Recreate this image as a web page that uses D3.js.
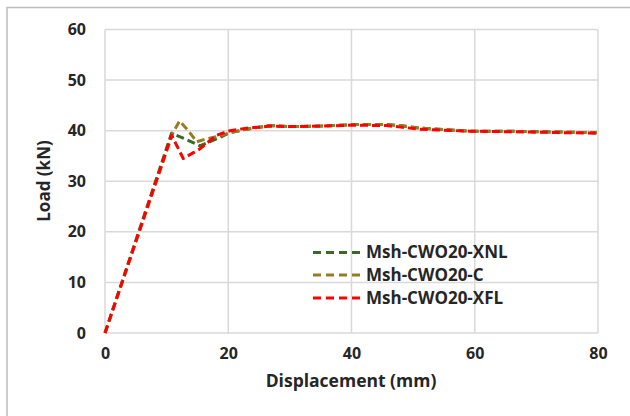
<!DOCTYPE html>
<html><head><meta charset="utf-8">
<script src="https://cdn.jsdelivr.net/npm/d3@7"></script>
<style>body{margin:0;background:#fff}svg{display:block}</style>
</head><body>
<svg id="c" width="630" height="416"></svg>
<script>
const xTicks = [0, 20, 40, 60, 80];
const yTicks = [0, 10, 20, 30, 40, 50, 60];
const seriesNames = ["Msh-CWO20-XNL", "Msh-CWO20-C", "Msh-CWO20-XFL"];
const seriesColors = ["#3b6a27", "#9a7b22", "#ff0000"];
const dispXNL = [0, 10.8, 13.3, 15.4, 18.1, 20.3, 23, 26.8, 30, 35, 40.3, 45.7, 48, 51.1, 55, 59.2, 65, 70, 75, 79.8];
const loadXNL = [0, 39.5, 38.2, 37.0, 38.4, 39.6, 40.3, 41.0, 40.8, 40.9, 41.2, 41.2, 41.0, 40.5, 40.2, 39.9, 39.9, 39.8, 39.7, 39.6];
const dispC = [0, 11, 12.1, 13.5, 14.9, 16.5, 18.1, 20.3, 23, 26.8, 30, 35, 40.3, 45.7, 48, 51.1, 55, 59.2, 65, 70, 75, 79.8];
const loadC = [0, 39.5, 41.9, 40.0, 37.8, 38.4, 38.8, 39.6, 40.3, 41.0, 40.8, 40.9, 41.2, 41.2, 41.0, 40.5, 40.2, 39.9, 39.9, 39.8, 39.7, 39.6];
const dispXFL = [0, 10.8, 12.7, 15.4, 18.1, 20.3, 23, 26.8, 30, 35, 40.3, 45.7, 48, 51.1, 55, 59.2, 65, 70, 75, 79.8];
const loadXFL = [0, 39.1, 34.5, 36.4, 39.1, 40.0, 40.5, 40.9, 40.8, 40.9, 41.1, 41.0, 40.7, 40.3, 40.1, 39.9, 39.8, 39.7, 39.6, 39.5];

const series = [
  {name: seriesNames[0], color: seriesColors[0], d: dispXNL, l: loadXNL},
  {name: seriesNames[1], color: seriesColors[1], d: dispC, l: loadC},
  {name: seriesNames[2], color: seriesColors[2], d: dispXFL, l: loadXFL}
];

const svg = d3.select("#c");
const L = 105, R = 598, T = 29.5, B = 333;
const x = d3.scaleLinear().domain([0, 80]).range([L, R]);
const y = d3.scaleLinear().domain([0, 60]).range([B, T]);
const font = "'Open Sans', sans-serif";
const txt = "#262626";

// outer frame
svg.append("path").attr("d", "M7,416 V7.5 H630").attr("fill", "none").attr("stroke", "#bdbdbd").attr("stroke-width", 1.5);

// gridlines
svg.append("g").selectAll("line").data(xTicks).join("line")
  .attr("x1", d => x(d)).attr("x2", d => x(d)).attr("y1", T).attr("y2", B)
  .attr("stroke", "#d9d9d9").attr("stroke-width", 1.5);
svg.append("g").selectAll("line").data(yTicks).join("line")
  .attr("x1", L).attr("x2", R).attr("y1", d => y(d)).attr("y2", d => y(d))
  .attr("stroke", "#d9d9d9").attr("stroke-width", 1.5);

// axes
const xAxis = svg.append("g").attr("transform", `translate(0,${B})`)
  .call(d3.axisBottom(x).tickValues(xTicks).tickSize(0).tickPadding(15));
const yAxis = svg.append("g").attr("transform", `translate(${L},0)`)
  .call(d3.axisLeft(y).tickValues(yTicks).tickSize(0).tickPadding(19));
[xAxis, yAxis].forEach(a => {
  a.select(".domain").remove();
  a.selectAll("text").attr("font-family", font).attr("font-weight", "bold")
    .attr("font-size", 16).attr("fill", txt);
});

svg.append("text").attr("x", 351).attr("y", 387).attr("text-anchor", "middle")
  .attr("font-family", font).attr("font-weight", "bold").attr("font-size", 17.5).attr("fill", txt)
  .text("Displacement (mm)");
svg.append("text").attr("transform", "translate(50,181) rotate(-90)").attr("text-anchor", "middle")
  .attr("font-family", font).attr("font-weight", "bold").attr("font-size", 17).attr("fill", txt)
  .text("Load (kN)");

// lines
const line = d3.line().x(p => x(p[0])).y(p => y(p[1])).curve(d3.curveLinear);
svg.append("g").selectAll("path").data(series).join("path")
  .attr("d", s => line(s.d.map((v, i) => [v, s.l[i]])))
  .attr("fill", "none").attr("stroke", s => s.color).attr("stroke-width", 3)
  .attr("stroke-dasharray", "8,4").attr("stroke-linejoin", "round");

// legend
const lg = svg.append("g");
const rows = [252.5, 275, 298];
series.forEach((s, i) => {
  lg.append("line").attr("x1", 313).attr("x2", 362).attr("y1", rows[i]).attr("y2", rows[i])
    .attr("stroke", s.color).attr("stroke-width", 3).attr("stroke-dasharray", "8,5");
  lg.append("text").attr("x", 366).attr("y", rows[i]).attr("dy", "0.35em")
    .attr("font-family", font).attr("font-weight", "bold").attr("font-size", 17).attr("fill", txt)
    .text(s.name);
});
</script>
</body></html>
